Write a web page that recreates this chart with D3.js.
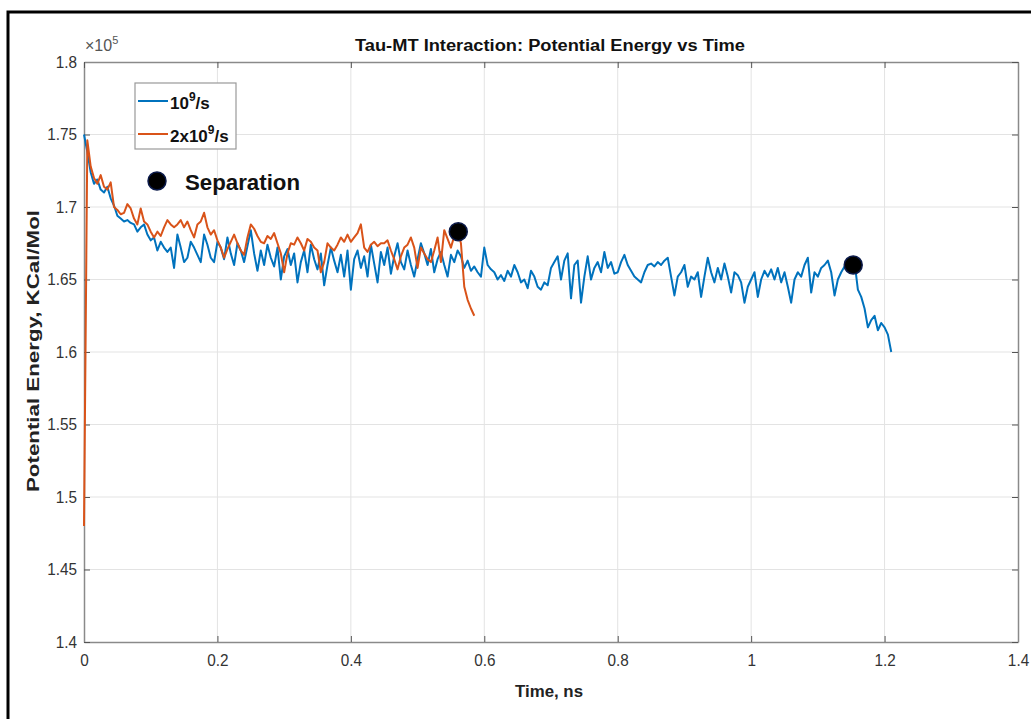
<!DOCTYPE html>
<html>
<head>
<meta charset="utf-8">
<script src="https://cdn.jsdelivr.net/npm/d3@7"></script>
<style>
  html, body { margin: 0; padding: 0; background: #fff; }
  svg { display: block; font-family: "Liberation Sans", Arial, sans-serif; }
</style>
</head>
<body>
<svg id="chart" width="1031" height="719"></svg>
<script>
// ---- data (energy in units of 1e5 KCal/Mol, time in ns) ----
const timeStep = 0.005;
const seriesNames = ["10^9/s", "2x10^9/s"];
const blueEnergy = [
  1.750, 1.738, 1.724, 1.716, 1.719, 1.712, 1.710, 1.714, 1.706, 1.701,
  1.694, 1.692, 1.690, 1.691, 1.689, 1.688, 1.683, 1.686, 1.688, 1.681,
  1.677, 1.679, 1.670, 1.676, 1.672, 1.669, 1.672, 1.658, 1.681, 1.672,
  1.662, 1.665, 1.676, 1.672, 1.667, 1.662, 1.681, 1.674, 1.665, 1.662,
  1.676, 1.672, 1.664, 1.679, 1.668, 1.660, 1.675, 1.670, 1.662, 1.673,
  1.684, 1.668, 1.656, 1.670, 1.660, 1.674, 1.665, 1.659, 1.672, 1.650,
  1.666, 1.671, 1.660, 1.668, 1.648, 1.662, 1.670, 1.655, 1.674, 1.664,
  1.657, 1.668, 1.646, 1.660, 1.672, 1.663, 1.655, 1.667, 1.652, 1.670,
  1.643, 1.664, 1.670, 1.658, 1.666, 1.652, 1.674, 1.661, 1.648, 1.669,
  1.660, 1.672, 1.654, 1.666, 1.675, 1.662, 1.657, 1.670, 1.660, 1.652,
  1.664, 1.675, 1.668, 1.660, 1.671, 1.655, 1.664, 1.669, 1.660, 1.652,
  1.667, 1.662, 1.670, 1.666, 1.658, 1.663, 1.656, 1.659, 1.655, 1.652,
  1.672, 1.660, 1.657, 1.655, 1.650, 1.653, 1.649, 1.656, 1.652, 1.660,
  1.655, 1.648, 1.650, 1.644, 1.656, 1.652, 1.645, 1.643, 1.648, 1.646,
  1.658, 1.662, 1.666, 1.650, 1.663, 1.668, 1.637, 1.660, 1.663, 1.634,
  1.652, 1.666, 1.650, 1.658, 1.662, 1.655, 1.669, 1.658, 1.662, 1.654,
  1.655, 1.662, 1.667, 1.660, 1.656, 1.652, 1.650, 1.648, 1.655, 1.660,
  1.661, 1.659, 1.662, 1.660, 1.663, 1.665, 1.652, 1.639, 1.652, 1.655,
  1.660, 1.645, 1.652, 1.650, 1.655, 1.638, 1.652, 1.665, 1.655, 1.648,
  1.658, 1.650, 1.661, 1.652, 1.641, 1.655, 1.653, 1.648, 1.634, 1.645,
  1.650, 1.655, 1.638, 1.650, 1.656, 1.652, 1.657, 1.650, 1.658, 1.648,
  1.655, 1.645, 1.634, 1.650, 1.655, 1.652, 1.660, 1.665, 1.641, 1.655,
  1.652, 1.658, 1.660, 1.663, 1.655, 1.639, 1.650, 1.655, 1.659, 1.657,
  1.660, 1.662, 1.643, 1.638, 1.630, 1.617, 1.622, 1.625, 1.615, 1.620,
  1.617, 1.612, 1.600
];
const orangeEnergy = [
  1.480, 1.746, 1.728, 1.720, 1.716, 1.722, 1.714, 1.712, 1.717, 1.700,
  1.698, 1.695, 1.696, 1.702, 1.699, 1.692, 1.688, 1.699, 1.690, 1.688,
  1.683, 1.679, 1.683, 1.680, 1.686, 1.691, 1.688, 1.686, 1.688, 1.691,
  1.686, 1.690, 1.684, 1.679, 1.688, 1.690, 1.696, 1.686, 1.681, 1.684,
  1.677, 1.672, 1.665, 1.671, 1.676, 1.681, 1.675, 1.670, 1.667, 1.679,
  1.688, 1.685, 1.680, 1.676, 1.675, 1.680, 1.678, 1.682, 1.675, 1.668,
  1.655, 1.668, 1.675, 1.674, 1.679, 1.675, 1.670, 1.678, 1.676, 1.672,
  1.670, 1.655, 1.662, 1.675, 1.672, 1.670, 1.674, 1.679, 1.676, 1.681,
  1.676, 1.679, 1.682, 1.688, 1.672, 1.669, 1.674, 1.676, 1.673, 1.675,
  1.675, 1.677, 1.670, 1.664, 1.657, 1.666, 1.672, 1.674, 1.679, 1.672,
  1.658, 1.672, 1.668, 1.664, 1.662, 1.670, 1.679, 1.662, 1.684, 1.678,
  1.672, 1.680, 1.683, 1.675, 1.645, 1.636, 1.630, 1.625
];
const separationTimes = [0.561, 1.153];
const separationEnergy = [1.683, 1.660];
const xTicks = [0, 0.2, 0.4, 0.6, 0.8, 1, 1.2, 1.4];
const yTicks = [1.4, 1.45, 1.5, 1.55, 1.6, 1.65, 1.7, 1.75, 1.8];
const colors = ["#0072BD", "#D95319"];

// ---- layout ----
const svg = d3.select("#chart");
const L = 84, R = 1018, T = 62, B = 642;
const x = d3.scaleLinear().domain([0, 1.4]).range([L, R]);
const y = d3.scaleLinear().domain([1.4, 1.8]).range([B, T]);

function condense(sel, f) {
  sel.each(function () {
    const w = this.getComputedTextLength();
    d3.select(this).attr("textLength", w * f).attr("lengthAdjust", "spacingAndGlyphs");
  });
}

// outer frame
svg.append("rect").attr("x", 8).attr("y", 12).attr("width", 1040).attr("height", 720)
  .attr("fill", "#fff").attr("stroke", "#000").attr("stroke-width", 3);

// grid
svg.append("g").selectAll("line").data(xTicks.slice(1, -1)).join("line")
  .attr("x1", d => x(d)).attr("x2", d => x(d)).attr("y1", T).attr("y2", B)
  .attr("stroke", "#e3e3e3").attr("stroke-width", 1);
svg.append("g").selectAll("line").data(yTicks.slice(1, -1)).join("line")
  .attr("x1", L).attr("x2", R).attr("y1", d => y(d)).attr("y2", d => y(d))
  .attr("stroke", "#e3e3e3").attr("stroke-width", 1);

// axes (ticks inward, MATLAB box style)
const fmt = d => String(+d.toFixed(2));
const axB = svg.append("g").attr("transform", `translate(0,${B})`)
  .call(d3.axisBottom(x).tickValues(xTicks).tickFormat(fmt).tickSizeInner(-6).tickSizeOuter(0).tickPadding(12));
const axL = svg.append("g").attr("transform", `translate(${L},0)`)
  .call(d3.axisLeft(y).tickValues(yTicks).tickFormat(fmt).tickSizeInner(-6).tickSizeOuter(0).tickPadding(7));
const axT = svg.append("g").attr("transform", `translate(0,${T})`)
  .call(d3.axisTop(x).tickValues(xTicks).tickFormat("").tickSizeInner(-6).tickSizeOuter(0));
const axR = svg.append("g").attr("transform", `translate(${R},0)`)
  .call(d3.axisRight(y).tickValues(yTicks).tickFormat("").tickSizeInner(-6).tickSizeOuter(0));
[axB, axL, axT, axR].forEach(a => {
  a.select(".domain").attr("stroke", "#8a8a8a").attr("stroke-width", 1.5);
  a.selectAll(".tick line").attr("stroke", "#555");
  a.selectAll("text").attr("fill", "#333").style("font-size", "17px");
});
condense(axB.selectAll("text"), 0.9);
condense(axL.selectAll("text"), 0.9);

// exponent
const ex = svg.append("text").attr("x", 85).attr("y", 51).attr("fill", "#555").style("font-size", "16px");
ex.append("tspan").text("\u00d710");
ex.append("tspan").attr("dy", -7).style("font-size", "11px").text("5");

// lines
const line = d3.line().x((d, i) => x(i * timeStep)).y(d => y(d));
svg.append("path").datum(blueEnergy).attr("d", line)
  .attr("fill", "none").attr("stroke", colors[0]).attr("stroke-width", 2).attr("stroke-linejoin", "round");
svg.append("path").datum(orangeEnergy).attr("d", line)
  .attr("fill", "none").attr("stroke", colors[1]).attr("stroke-width", 2).attr("stroke-linejoin", "round");

// separation markers
svg.append("g").selectAll("circle").data(separationTimes).join("circle")
  .attr("cx", d => x(d)).attr("cy", (d, i) => y(separationEnergy[i])).attr("r", 9)
  .attr("fill", "#000").attr("stroke", "#0b1a4a").attr("stroke-width", 1.5);

// legend
svg.append("rect").attr("x", 135).attr("y", 83).attr("width", 101).attr("height", 66)
  .attr("fill", "#fff").attr("stroke", "#999").attr("stroke-width", 1.2);
const legY = [101, 134];
legY.forEach((ly, i) => {
  svg.append("line").attr("x1", 138).attr("x2", 168).attr("y1", ly).attr("y2", ly)
    .attr("stroke", colors[i]).attr("stroke-width", 2);
});
const lt1 = svg.append("text").attr("x", 170).attr("y", 109).style("font-size", "17px").style("font-weight", "bold").attr("fill", "#111");
lt1.append("tspan").text("10");
lt1.append("tspan").attr("dy", -8).style("font-size", "12px").text("9");
lt1.append("tspan").attr("dy", 8).text("/s");
const lt2 = svg.append("text").attr("x", 170).attr("y", 142).style("font-size", "17px").style("font-weight", "bold").attr("fill", "#111");
lt2.append("tspan").text("2x10");
lt2.append("tspan").attr("dy", -8).style("font-size", "12px").text("9");
lt2.append("tspan").attr("dy", 8).text("/s");

// separation annotation
svg.append("circle").attr("cx", 157).attr("cy", 181).attr("r", 9)
  .attr("fill", "#000").attr("stroke", "#0b1a4a").attr("stroke-width", 1.5);
svg.append("text").attr("x", 185).attr("y", 190).style("font-size", "22px").style("font-weight", "bold")
  .attr("fill", "#111").attr("textLength", 115).attr("lengthAdjust", "spacingAndGlyphs").text("Separation");

// title and axis labels
svg.append("text").attr("x", 550).attr("y", 51).attr("text-anchor", "middle")
  .style("font-size", "16px").style("font-weight", "bold").attr("fill", "#111")
  .attr("textLength", 390).attr("lengthAdjust", "spacingAndGlyphs")
  .text("Tau-MT Interaction: Potential Energy vs Time");
svg.append("text").attr("x", 549).attr("y", 697).attr("text-anchor", "middle")
  .style("font-size", "17px").style("font-weight", "bold").attr("fill", "#222")
  .attr("textLength", 68).attr("lengthAdjust", "spacingAndGlyphs")
  .text("Time, ns");
svg.append("text").attr("transform", "translate(39,351) rotate(-90)").attr("text-anchor", "middle")
  .style("font-size", "17px").style("font-weight", "bold").attr("fill", "#222")
  .attr("textLength", 282).attr("lengthAdjust", "spacingAndGlyphs")
  .text("Potential Energy, KCal/Mol");
</script>
</body>
</html>
